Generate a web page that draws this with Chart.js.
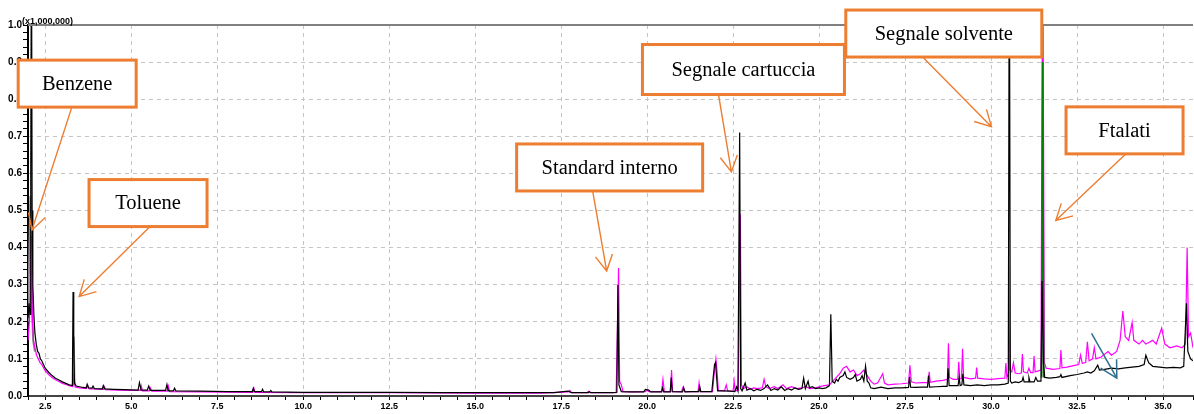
<!DOCTYPE html>
<html>
<head>
<meta charset="utf-8">
<script src="https://cdn.jsdelivr.net/npm/chart.js@4.4.1/dist/chart.umd.min.js"></script>
<style>
  html, body { margin: 0; padding: 0; background: #fff; }
  #chrom { display: block; }
</style>
</head>
<body>
<canvas id="chrom" width="1194" height="414"></canvas>
<script>
// retention time (min) vs intensity (x1,000,000)
const blackTrace = [
  [2.0,0.21],[2.03,0.25],[2.06,0.22],[2.08,0.6],[2.1,1.3],[2.12,0.5],[2.14,0.3],[2.17,0.22],[2.2,0.17],
  [2.24,0.14],[2.28,0.12],[2.32,0.115],[2.36,0.1],[2.4,0.095],[2.45,0.085],[2.5,0.075],[2.6,0.064],
  [2.7,0.055],[2.8,0.048],[2.9,0.043],[3.0,0.038],[3.1,0.034],[3.2,0.03],[3.29,0.028],[3.31,0.28],
  [3.33,0.16],[3.35,0.035],[3.4,0.027],[3.5,0.025],[3.6,0.023],[3.69,0.022],[3.72,0.032],[3.76,0.022],
  [3.86,0.021],[3.89,0.027],[3.93,0.02],[4.16,0.019],[4.19,0.028],[4.23,0.019],[4.5,0.018],[4.8,0.017],
  [5.2,0.016],[5.24,0.036],[5.29,0.016],[5.47,0.016],[5.51,0.027],[5.56,0.015],[6.0,0.015],[6.04,0.031],
  [6.08,0.014],[6.23,0.014],[6.26,0.021],[6.3,0.014],[7.0,0.013],[7.8,0.012],[8.52,0.012],[8.55,0.021],
  [8.58,0.012],[8.79,0.012],[8.82,0.018],[8.85,0.011],[9.03,0.011],[9.06,0.015],[9.09,0.011],[10.0,0.01],
  [11.0,0.01],[12.5,0.01],[14.0,0.009],[15.5,0.009],[16.5,0.009],[17.3,0.009],[17.5,0.011],[17.7,0.013],
  [17.8,0.009],[18.3,0.009],[18.32,0.012],[18.36,0.009],[19.0,0.009],[19.12,0.01],[19.15,0.3],[19.18,0.03],
  [19.25,0.012],[19.5,0.011],[19.9,0.011],[19.95,0.018],[20.05,0.016],[20.1,0.011],[20.42,0.011],
  [20.45,0.022],[20.48,0.011],[20.67,0.011],[20.7,0.05],[20.73,0.012],[21.03,0.011],[21.06,0.022],
  [21.1,0.011],[21.3,0.012],[21.5,0.012],[21.53,0.025],[21.56,0.012],[21.88,0.012],[21.92,0.05],
  [21.96,0.085],[21.99,0.09],[22.02,0.05],[22.05,0.014],[22.2,0.014],[22.4,0.013],[22.55,0.012],
  [22.6,0.025],[22.64,0.014],[22.69,0.71],[22.72,0.02],[22.76,0.014],[22.85,0.035],[22.9,0.016],
  [23.0,0.02],[23.1,0.014],[23.2,0.018],[23.3,0.015],[23.4,0.02],[23.5,0.03],[23.6,0.015],[23.7,0.02],
  [23.8,0.016],[23.9,0.025],[24.0,0.015],[24.1,0.02],[24.2,0.016],[24.3,0.022],[24.4,0.018],[24.5,0.02],
  [24.55,0.048],[24.6,0.02],[24.68,0.04],[24.72,0.022],[24.8,0.025],[24.9,0.02],[25.0,0.022],[25.1,0.02],
  [25.2,0.022],[25.3,0.028],[25.34,0.22],[25.38,0.04],[25.45,0.035],[25.5,0.045],[25.55,0.04],[25.6,0.05],
  [25.7,0.055],[25.75,0.065],[25.8,0.05],[25.9,0.045],[26.0,0.05],[26.05,0.058],[26.1,0.04],[26.2,0.045],
  [26.25,0.055],[26.3,0.04],[26.35,0.08],[26.4,0.04],[26.45,0.035],[26.5,0.022],[26.6,0.02],[26.7,0.022],
  [26.8,0.024],[26.9,0.022],[27.0,0.02],[27.2,0.022],[27.4,0.022],[27.6,0.023],[27.63,0.052],[27.66,0.024],
  [27.8,0.023],[28.0,0.024],[28.15,0.024],[28.18,0.055],[28.21,0.024],[28.4,0.025],[28.6,0.026],
  [28.72,0.026],[28.75,0.075],[28.78,0.028],[28.9,0.028],[29.04,0.028],[29.07,0.05],[29.1,0.028],
  [29.15,0.03],[29.18,0.06],[29.21,0.03],[29.4,0.028],[29.6,0.03],[29.8,0.028],[30.0,0.03],[30.2,0.03],
  [30.4,0.032],[30.5,0.035],[30.53,1.3],[30.56,0.04],[30.6,0.035],[30.7,0.038],[30.8,0.036],[30.9,0.04],
  [30.93,0.05],[30.96,0.038],[31.08,0.038],[31.1,0.05],[31.13,0.038],[31.25,0.038],[31.3,0.05],
  [31.35,0.04],[31.45,0.04],[31.48,0.31],[31.52,0.09],[31.56,0.05],[31.7,0.048],[31.9,0.05],[32.0,0.052],
  [32.03,0.058],[32.06,0.05],[32.3,0.055],[32.5,0.058],[32.7,0.062],[32.8,0.065],[32.9,0.062],[33.0,0.068],
  [33.1,0.083],[33.15,0.07],[33.3,0.072],[33.5,0.075],[33.7,0.073],[33.9,0.076],[34.1,0.078],[34.3,0.08],
  [34.45,0.085],[34.5,0.11],[34.58,0.09],[34.7,0.08],[34.9,0.078],[35.1,0.076],[35.3,0.077],[35.5,0.076],
  [35.6,0.08],[35.68,0.25],[35.72,0.12],[35.8,0.1],[35.87,0.095]
];

const magentaTrace = [
  [2.0,0.15],[2.04,0.2],[2.07,0.3],[2.1,0.43],[2.13,0.2],[2.16,0.15],[2.2,0.13],[2.25,0.11],[2.3,0.1],
  [2.35,0.09],[2.4,0.085],[2.5,0.068],[2.6,0.058],[2.7,0.05],[2.8,0.044],[2.9,0.039],[3.0,0.034],
  [3.1,0.031],[3.2,0.028],[3.3,0.025],[3.34,0.06],[3.37,0.024],[3.5,0.022],[3.7,0.02],[3.74,0.028],
  [3.78,0.019],[3.9,0.019],[4.2,0.018],[4.22,0.025],[4.26,0.017],[4.6,0.016],[5.0,0.015],[5.26,0.015],
  [5.29,0.028],[5.33,0.014],[5.53,0.014],[5.56,0.022],[5.6,0.013],[6.05,0.013],[6.08,0.027],[6.12,0.012],
  [7.0,0.011],[8.54,0.01],[8.57,0.02],[8.6,0.01],[10.0,0.009],[12.5,0.009],[15.0,0.008],[16.9,0.008],
  [17.7,0.011],[17.75,0.015],[17.8,0.009],[18.25,0.009],[18.3,0.013],[18.35,0.009],[19.1,0.009],
  [19.17,0.345],[19.2,0.04],[19.25,0.03],[19.3,0.012],[19.6,0.011],[19.95,0.012],[20.0,0.016],
  [20.05,0.012],[20.42,0.012],[20.46,0.045],[20.5,0.012],[20.68,0.012],[20.71,0.07],[20.74,0.012],
  [21.0,0.012],[21.05,0.025],[21.1,0.012],[21.48,0.012],[21.51,0.035],[21.54,0.012],[21.9,0.012],
  [21.95,0.06],[22.0,0.1],[22.03,0.07],[22.07,0.015],[22.25,0.014],[22.3,0.03],[22.34,0.014],[22.5,0.013],
  [22.53,0.04],[22.56,0.014],[22.65,0.015],[22.71,0.49],[22.74,0.03],[22.8,0.02],[22.9,0.025],[23.0,0.018],
  [23.1,0.022],[23.2,0.02],[23.35,0.022],[23.4,0.045],[23.45,0.025],[23.55,0.02],[23.7,0.025],[23.8,0.02],
  [23.95,0.03],[24.05,0.02],[24.2,0.025],[24.35,0.02],[24.5,0.022],[24.6,0.025],[24.75,0.02],[24.9,0.022],
  [25.0,0.025],[25.15,0.028],[25.3,0.03],[25.4,0.04],[25.5,0.05],[25.6,0.06],[25.7,0.075],[25.8,0.08],
  [25.9,0.065],[26.0,0.07],[26.1,0.055],[26.2,0.06],[26.3,0.07],[26.4,0.055],[26.5,0.04],[26.6,0.032],
  [26.7,0.035],[26.85,0.06],[26.9,0.035],[27.0,0.03],[27.2,0.032],[27.4,0.033],[27.6,0.035],[27.64,0.083],
  [27.68,0.038],[27.8,0.035],[28.0,0.036],[28.17,0.036],[28.2,0.065],[28.23,0.037],[28.4,0.04],[28.6,0.042],
  [28.73,0.045],[28.76,0.142],[28.79,0.05],[28.9,0.045],[29.03,0.045],[29.06,0.092],[29.09,0.046],
  [29.14,0.047],[29.17,0.127],[29.2,0.05],[29.4,0.046],[29.55,0.048],[29.58,0.077],[29.61,0.048],
  [29.8,0.046],[30.0,0.045],[30.2,0.047],[30.4,0.048],[30.43,0.089],[30.46,0.05],[30.5,0.06],[30.51,0.35],
  [30.54,0.07],[30.6,0.065],[30.65,0.09],[30.7,0.062],[30.8,0.06],[30.88,0.062],[30.91,0.113],[30.94,0.065],
  [31.05,0.062],[31.1,0.075],[31.15,0.063],[31.22,0.063],[31.25,0.108],[31.28,0.065],[31.45,0.07],
  [31.5,1.3],[31.55,0.09],[31.6,0.075],[31.8,0.072],[32.0,0.074],[32.03,0.124],[32.06,0.076],[32.2,0.078],
  [32.4,0.082],[32.55,0.085],[32.6,0.11],[32.65,0.088],[32.75,0.09],[32.8,0.146],[32.85,0.095],
  [32.95,0.1],[33.0,0.13],[33.05,0.1],[33.2,0.105],[33.4,0.12],[33.5,0.11],[33.65,0.12],[33.75,0.15],
  [33.83,0.229],[33.9,0.16],[34.0,0.15],[34.1,0.198],[34.15,0.15],[34.3,0.14],[34.4,0.15],[34.5,0.14],
  [34.6,0.145],[34.7,0.15],[34.8,0.14],[34.96,0.183],[35.05,0.14],[35.2,0.13],[35.4,0.135],[35.55,0.13],
  [35.65,0.14],[35.7,0.4],[35.74,0.16],[35.8,0.17],[35.87,0.13]
];

const greenTrace = [[31.47,0.05],[31.5,0.9],[31.53,0.05]];
const grayTrace = [[2.0,0.2],[2.07,0.54],[2.11,0.25],[2.15,0.15],[2.2,0.12],[3.3,null],[3.31,0.03],[3.33,0.16],[3.35,0.03]];

const yTickStep = 0.02, yLabelStep = 0.1;
const xTickStep = 0.5, xLabelStep = 2.5;
const scaleNote = '(x1,000,000)';

// annotation callouts, placed in data units
const callouts = [
  { text: 'Benzene', cx: 3.43, cy: 0.842, w: 118, h: 47, from: 3.275, tip: [2.113, 0.447] },
  { text: 'Toluene', cx: 5.49, cy: 0.52, w: 118, h: 47, from: 5.549, tip: [3.487, 0.268] },
  { text: 'Standard interno', cx: 18.91, cy: 0.616, w: 186, h: 47, from: 18.416, tip: [18.823, 0.337] },
  { text: 'Segnale cartuccia', cx: 22.8, cy: 0.88, w: 202, h: 50, from: 22.075, tip: [22.45, 0.604] },
  { text: 'Segnale solvente', cx: 28.625, cy: 0.977, w: 196, h: 47, from: 28.01, tip: [30.01, 0.726] },
  { text: 'Ftalati', cx: 33.88, cy: 0.716, w: 117, h: 47, from: 33.92, tip: [31.88, 0.473] }
];
const blueArrow = { start: [32.92, 0.169], tip: [33.655, 0.048] };

const onStep = (v, step) => Math.abs(v / step - Math.round(v / step)) < 1e-6;
const toPts = arr => arr.map(p => ({ x: p[0], y: p[1] }));

function drawArrow(ctx, x0, y0, x1, y1, color, width, barb) {
  const ang = Math.atan2(y1 - y0, x1 - x0);
  ctx.strokeStyle = color;
  ctx.lineWidth = width;
  ctx.beginPath();
  ctx.moveTo(x0, y0);
  ctx.lineTo(x1, y1);
  ctx.moveTo(x1 - barb * Math.cos(ang - 0.5), y1 - barb * Math.sin(ang - 0.5));
  ctx.lineTo(x1, y1);
  ctx.lineTo(x1 - barb * Math.cos(ang + 0.5), y1 - barb * Math.sin(ang + 0.5));
  ctx.stroke();
}

const frameAndNotes = {
  id: 'frameAndNotes',
  afterDraw(chart) {
    const { ctx, chartArea: a, scales: { x, y } } = chart;
    ctx.save();
    ctx.strokeStyle = '#808080';
    ctx.lineWidth = 2;
    ctx.beginPath();
    ctx.moveTo(a.left, a.top);
    ctx.lineTo(a.right, a.top);
    ctx.stroke();

    ctx.font = 'bold 9px "Liberation Sans"';
    ctx.fillStyle = '#000';
    ctx.textAlign = 'left';
    ctx.textBaseline = 'alphabetic';
    ctx.fillText(scaleNote, 22, 24);

    const b = blueArrow;
    drawArrow(ctx, x.getPixelForValue(b.start[0]), y.getPixelForValue(b.start[1]),
      x.getPixelForValue(b.tip[0]), y.getPixelForValue(b.tip[1]), '#2f6f8f', 1.5, 19);

    callouts.forEach(c => {
      const cx = x.getPixelForValue(c.cx), cy = y.getPixelForValue(c.cy);
      const fx = x.getPixelForValue(c.from), fy = cy + c.h / 2;
      drawArrow(ctx, fx, fy, x.getPixelForValue(c.tip[0]), y.getPixelForValue(c.tip[1]), '#ED7D31', 1.4, 18);
      ctx.fillStyle = '#fff';
      ctx.fillRect(cx - c.w / 2, cy - c.h / 2, c.w, c.h);
      ctx.strokeStyle = '#ED7D31';
      ctx.lineWidth = 3;
      ctx.strokeRect(cx - c.w / 2, cy - c.h / 2, c.w, c.h);
      ctx.fillStyle = '#000';
      ctx.font = '20.5px "Liberation Serif"';
      ctx.textAlign = 'center';
      ctx.textBaseline = 'middle';
      ctx.fillText(c.text, cx, cy + 1);
    });
    ctx.restore();
  }
};

const lineSet = (label, data, color, width) => ({
  label, data: toPts(data), borderColor: color, borderWidth: width,
  pointRadius: 0, tension: 0, fill: false, spanGaps: false
});

new Chart(document.getElementById('chrom'), {
  type: 'line',
  data: {
    datasets: [
      lineSet('black', blackTrace, '#000000', 1.2),
      lineSet('green', greenTrace, '#008000', 1.6),
      lineSet('magenta', magentaTrace, '#ff00ff', 1.2),
      lineSet('gray', grayTrace, '#8a8a8a', 2)
    ]
  },
  options: {
    responsive: false,
    animation: false,
    parsing: true,
    layout: { padding: { top: 25, right: 0, left: 0, bottom: 0 } },
    plugins: { legend: { display: false }, tooltip: { enabled: false } },
    scales: {
      x: {
        type: 'linear',
        min: 2.0,
        max: 35.87,
        afterFit: s => { s.height = 18; },
        border: { display: true, color: '#444', width: 2, dash: [4, 4] },
        grid: {
          color: c => onStep(c.tick.value, xLabelStep) ? '#c4c4c4' : 'rgba(0,0,0,0)',
          tickColor: '#000',
          tickLength: 4,
          lineWidth: 1
        },
        ticks: {
          stepSize: xTickStep,
          maxTicksLimit: 200,
          autoSkip: false,
          maxRotation: 0,
          padding: 1,
          color: '#000',
          font: { family: 'Liberation Sans', size: 9, weight: 'bold' },
          callback: v => onStep(v, xLabelStep) ? v.toFixed(1) : ''
        }
      },
      y: {
        type: 'linear',
        min: 0,
        max: 1.0,
        afterFit: s => { s.width = 28; },
        border: { display: true, color: '#000', width: 2, dash: [4, 4] },
        grid: {
          color: c => onStep(c.tick.value, yLabelStep) ? '#c4c4c4' : 'rgba(0,0,0,0)',
          tickColor: '#000',
          tickLength: 5,
          lineWidth: 1
        },
        ticks: {
          stepSize: yTickStep,
          maxTicksLimit: 200,
          autoSkip: false,
          padding: 1,
          color: '#000',
          font: { family: 'Liberation Sans', size: 10, weight: 'bold' },
          callback: v => onStep(v, yLabelStep) ? v.toFixed(1) : ''
        }
      }
    }
  },
  plugins: [frameAndNotes]
});
</script>
</body>
</html>
